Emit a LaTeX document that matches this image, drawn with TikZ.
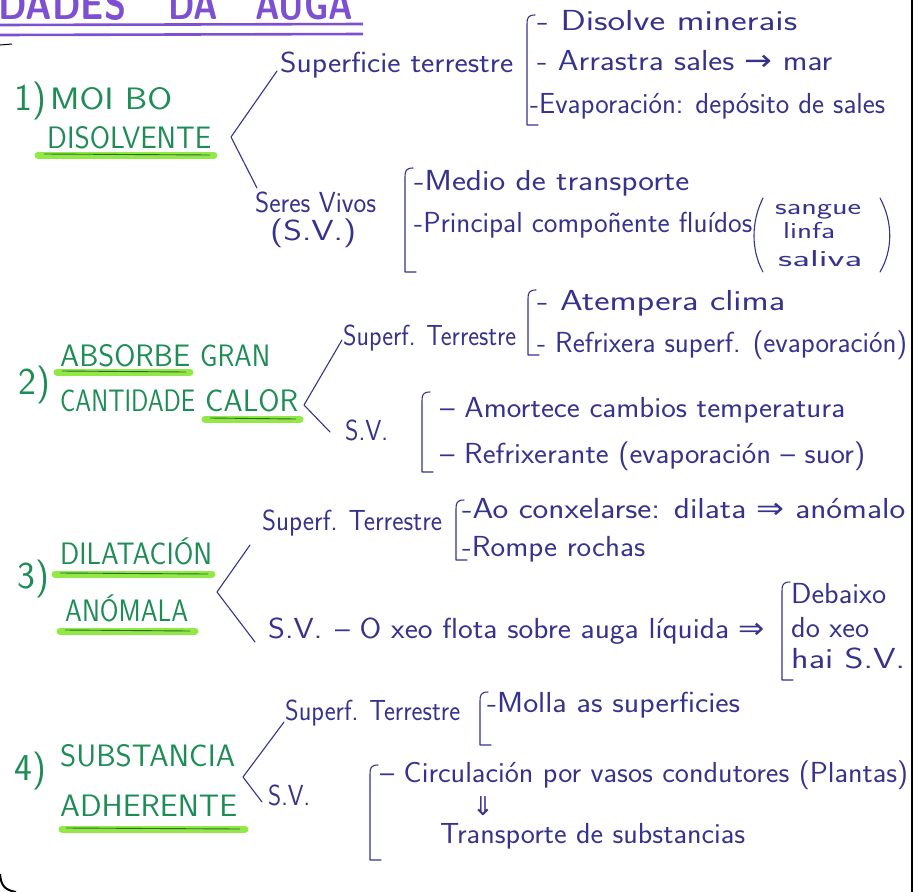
\documentclass[tikz,border=0pt]{standalone}
\usepackage{fontspec}
\usepackage{graphicx}
\newfontfamily\dv{DejaVu Sans}
\definecolor{inkc}{RGB}{55,50,140}
\definecolor{greenc}{RGB}{30,140,85}
\definecolor{limec}{RGB}{145,232,70}
\definecolor{dgreen}{RGB}{40,105,45}
\definecolor{purp}{RGB}{125,80,210}
\newcommand\brk[3]{\draw[br] ({#1+8},#2) .. controls ({#1+1},#2) and (#1,{#2+3}) .. (#1,{#2+9}) -- (#1,#3) -- ({#1+11},#3);}
\newcommand\fw[2]{\resizebox{#1pt}{\height}{#2}}
\begin{document}
\begin{tikzpicture}[x=1pt,y=-1pt,
  ink/.style={text=inkc, font=\sffamily\fontsize{29}{31}\selectfont, anchor=base west, inner sep=0pt},
  head/.style={text=greenc, font=\sffamily\fontsize{31}{33}\selectfont, anchor=base west, inner sep=0pt},
  num/.style={text=greenc, font=\sffamily\fontsize{38}{40}\selectfont, anchor=base west, inner sep=0pt},
  sm/.style={text=inkc, font=\sffamily\fontsize{23}{25}\selectfont, anchor=base west, inner sep=0pt},
  ttl/.style={text=purp, font=\sffamily\bfseries\fontsize{44}{46}\selectfont, anchor=base west, inner sep=0pt},
  br/.style={draw=inkc, line width=1.1pt, line cap=round, line join=round},
  hl/.style={draw=limec, line width=7pt, line cap=round},
  hlline/.style={draw=dgreen, line width=0.9pt},
]
\useasboundingbox (0,0) rectangle (919,892);
\clip (0,0) rectangle (919,892);
\fill[white] (0,0) rectangle (919,892);

% title (clipped at top, as in the scan)
\node[ttl] (ta) at (-2,19) {\fw{128}{DADES}};
\node[ttl] (tb) at (168,19) {\fw{50}{DA}};
\node[ttl] (tc) at (255,19) {\fw{98}{AUGA}};
\draw[purp, line width=2.6pt] (0,25) -- (363,24);
\draw[purp, line width=2.6pt] (0,35) -- (363,34);
\draw[black, line width=1pt] (0,45) -- (12,44);

% borders
\draw[black, line width=2.6pt] (912,0) -- (912,892);
\draw[black, line width=2pt] (0,874) .. controls (1,886) and (5,890) .. (16,892);

% ===== 1 =====
\node[num] (n1) at (14,110) {1)};
\node[head] (h1a) at (50,109) {\fw{122}{MOI BO}};
\draw[hl] (38,155) -- (214,155);
\draw[hlline] (44,154) -- (210,155);
\node[head] (h1b) at (47,148) {\fw{164}{DISOLVENTE}};
\coordinate (b1) at (231,137);
\coordinate (b1u) at (277,71);
\coordinate (b1d) at (257,188);
\draw[br] (b1u) -- (b1) -- (b1d);
\node[ink] (t1) at (280,72) {\fw{233}{Superficie terrestre}};
\brk{527}{15}{125}
\node[ink] (i11) at (537,30) {\fw{260}{- Disolve minerais}};
\node[ink] (i12) at (537,70) {\fw{295}{- Arrastra sales {\dv →} mar}};
\node[ink] (i13) at (530,113) {\fw{355}{-Evaporación: depósito de sales}};
\node[ink] (s1) at (255,212) {\fw{121}{Seres Vivos}};
\node[ink] (s1b) at (270,240) {\fw{86}{(S.V.)}};
\brk{405}{168}{272}
\node[ink] (i14) at (414,190) {\fw{275}{-Medio de transporte}};
\node[ink] (i15) at (414,232) {\fw{338}{-Principal compoñente fluídos}};
\draw[br] (763,198) .. controls (751,222) and (751,250) .. (763,272);
\draw[br] (880,198) .. controls (893,222) and (893,250) .. (880,272);
\node[sm] (f1) at (775,214) {\fw{86}{sangue}};
\node[sm] (f2) at (783,238) {\fw{52}{linfa}};
\node[sm] (f3) at (778,266) {\fw{84}{saliva}};

% ===== 2 =====
\node[num] (n2) at (18,394) {2)};
\draw[hl] (57,372) -- (190,372);
\draw[hlline] (62,371) -- (186,372);
\node[head] (h2a) at (60,366) {\fw{130}{ABSORBE}};
\node[head] (h2b) at (200,366) {\fw{70}{GRAN}};
\draw[hl] (205,419) -- (300,419);
\draw[hlline] (210,418) -- (296,419);
\node[head] (h2c) at (60,411) {\fw{135}{CANTIDADE}};
\node[head] (h2d) at (205,411) {\fw{93}{CALOR}};
\coordinate (b2) at (304,405);
\coordinate (b2u) at (342,340);
\coordinate (b2d) at (330,432);
\draw[br] (b2u) -- (b2) -- (b2d);
\node[ink] (t2) at (343,345) {\fw{173}{Superf. Terrestre}};
\brk{528}{290}{355}
\node[ink] (i21) at (537,310) {\fw{248}{- Atempera clima}};
\node[ink] (i22) at (537,352) {\fw{370}{- Refrixera superf. (evaporación)}};
\node[ink] (s2) at (345,440) {\fw{43}{S.V.}};
\brk{422}{392}{472}
\node[ink] (i23) at (440,417) {\fw{405}{-- Amortece cambios temperatura}};
\node[ink] (i24) at (440,463) {\fw{425}{-- Refrixerante (evaporación -- suor)}};

% ===== 3 =====
\node[num] (n3) at (17,588) {3)};
\draw[hl] (55,574) -- (212,574);
\draw[hlline] (60,573) -- (208,574);
\node[head] (h3a) at (60,564) {\fw{152}{DILATACIÓN}};
\draw[hl] (60,631) -- (195,631);
\draw[hlline] (65,630) -- (190,631);
\node[head] (h3b) at (65,621) {\fw{123}{ANÓMALA}};
\coordinate (b3) at (217,592);
\coordinate (b3u) at (250,545);
\coordinate (b3d) at (255,642);
\draw[br] (b3u) -- (b3) -- (b3d);
\node[ink] (t3) at (262,530) {\fw{180}{Superf. Terrestre}};
\brk{456}{500}{560}
\node[ink] (i31) at (462,518) {\fw{443}{-Ao conxelarse: dilata {\dv ⇒} anómalo}};
\node[ink] (i32) at (462,556) {\fw{183}{-Rompe rochas}};
\node[ink] (s3) at (268,638) {\fw{54}{S.V.}};
\node[ink] (i33) at (335,638) {\fw{430}{-- O xeo flota sobre auga líquida {\dv ⇒}}};
\brk{782}{582}{680}
\node[ink] (d1) at (791,603) {\fw{95}{Debaixo}};
\node[ink] (d2) at (791,637) {\fw{78}{do xeo}};
\node[ink] (d3) at (791,668) {\fw{114}{hai S.V.}};

% ===== 4 =====
\node[num] (n4) at (14,780) {4)};
\node[head] (h4a) at (60,766) {\fw{175}{SUBSTANCIA}};
\draw[hl] (62,829) -- (245,829);
\draw[hlline] (66,828) -- (240,829);
\node[head] (h4b) at (60,816) {\fw{177}{ADHERENTE}};
\coordinate (b4) at (243,777);
\coordinate (b4u) at (284,722);
\coordinate (b4d) at (262,802);
\draw[br] (b4u) -- (b4) -- (b4d);
\node[ink] (t4) at (285,720) {\fw{175}{Superf. Terrestre}};
\brk{480}{692}{745}
\node[ink] (i41) at (487,712) {\fw{253}{-Molla as superficies}};
\node[ink] (s4) at (268,805) {\fw{42}{S.V.}};
\brk{370}{765}{860}
\node[ink] (i42) at (380,782) {\fw{528}{-- Circulación por vasos condutores (Plantas)}};
\node[ink, font=\dv\fontsize{26}{28}\selectfont] (ar) at (472,815) {⇓};
\node[ink] (i43) at (440,843) {\fw{305}{Transporte de substancias}};
\end{tikzpicture}
\end{document}
